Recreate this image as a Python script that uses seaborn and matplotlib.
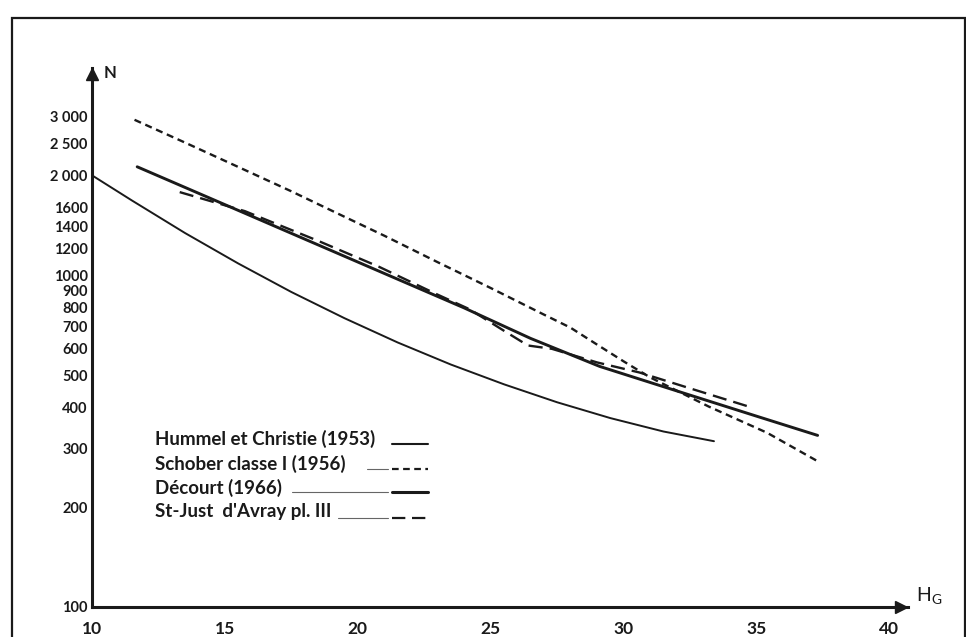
import numpy as np
import pandas as pd
import matplotlib
matplotlib.use("Agg")
import matplotlib.pyplot as plt
from matplotlib.lines import Line2D
from matplotlib.patches import Rectangle
from matplotlib.ticker import FixedLocator, FixedFormatter, NullFormatter
import seaborn as sns

# ---------------- data ----------------
hummel_x = [10.0, 11.5, 13.5, 15.5, 17.5, 19.5, 21.5, 23.5, 25.5, 27.5, 29.5, 31.5, 33.4]
hummel_n = [2000, 1680, 1340, 1085, 890, 742, 627, 538, 469, 414, 371, 338, 316]

schober_x = [11.6, 13.5, 15.5, 17.5, 19.5, 21.0, 23.0, 25.0, 27.0, 28.0, 29.0, 30.0, 31.0, 33.2, 35.4, 37.3]
schober_n = [2940, 2510, 2120, 1790, 1500, 1315, 1095, 915, 761, 695, 618, 550, 492, 402, 335, 275]

decourt_x = [11.7, 15.0, 18.0, 21.0, 24.0, 26.5, 29.1, 32.0, 35.0, 37.3]
decourt_n = [2122, 1632, 1285, 1012, 797, 645, 531, 448, 376, 329]

stjust_x = [13.3, 15.75, 18.5, 20.8, 23.0, 24.2, 25.5, 26.4, 27.3, 29.0, 30.6, 32.5, 34.7]
stjust_n = [1780, 1560, 1270, 1060, 874, 790, 680, 614, 600, 546, 509, 456, 402]

series_names = ["Hummel et Christie (1953)", "Schober classe I (1956)",
                "Décourt (1966)", "St-Just  d'Avray pl. III"]

y_major = [100, 200, 300, 400, 500, 600, 700, 800, 900, 1000, 1200, 1400, 1600, 2000, 2500, 3000]
y_labels = ["100", "200", "300", "400", "500", "600", "700", "800", "900", "1000",
            "1200", "1400", "1600", "2 000", "2 500", "3 000"]
y_minor = [120, 140, 160, 180, 250, 1800]
x_ticks = [10, 15, 20, 25, 30, 35, 40]
x_labels = ["10", "15", "20", "25", "30", "35", "40"]

# ---------------- styling ----------------
sns.set_style("white")
plt.rcParams['font.family'] = ['Lato', 'DejaVu Sans']
INK = "#1a1a1a"

W, H = 966, 637
fig = plt.figure(figsize=(W / 100, H / 100), dpi=100)
fig.patch.set_facecolor("white")

def fx(px):
    return px / W

def fy(py):
    return 1 - py / H

ax = fig.add_axes([fx(92), fy(607), fx(908) - fx(92), fy(68) - fy(607)])
ax.set_facecolor("white")

frames = []
for name, xs, ns in zip(series_names,
                        [hummel_x, schober_x, decourt_x, stjust_x],
                        [hummel_n, schober_n, decourt_n, stjust_n]):
    frames.append(pd.DataFrame({"HG": xs, "N": ns, "serie": name}))
df = pd.concat(frames, ignore_index=True)

styles = {
    series_names[0]: dict(lw=1.4, dashes=None),
    series_names[1]: dict(lw=1.7, dashes=(3, 2)),
    series_names[2]: dict(lw=2.1, dashes=None),
    series_names[3]: dict(lw=1.7, dashes=(6, 3)),
}
for name in series_names:
    sub = df[df["serie"] == name]
    st = styles[name]
    sns.lineplot(data=sub, x="HG", y="N", ax=ax, color=INK, lw=st["lw"],
                 sort=False, estimator=None, legend=False)
    if st["dashes"] is not None:
        ax.lines[-1].set_dashes(st["dashes"])

ax.set_yscale("log")
ax.set_xlim(10, 40.7)
ax.set_ylim(100, 4212)

ax.yaxis.set_major_locator(FixedLocator(y_major))
ax.yaxis.set_major_formatter(FixedFormatter(y_labels))
ax.yaxis.set_minor_locator(FixedLocator(y_minor))
ax.yaxis.set_minor_formatter(NullFormatter())
ax.xaxis.set_major_locator(FixedLocator(x_ticks))
ax.xaxis.set_major_formatter(FixedFormatter(x_labels))

ax.tick_params(axis="y", which="both", direction="inout", length=6, width=1.3,
               color=INK, labelsize=10.5, pad=0, labelcolor=INK)
ax.tick_params(axis="x", which="major", direction="inout", length=8, width=1.3,
               color=INK, labelsize=12.5, pad=6, labelcolor=INK)
for lab in ax.get_yticklabels() + ax.get_xticklabels():
    lab.set_fontweight("bold")

ax.set_xlabel("")
ax.set_ylabel("")
for s in ["top", "right"]:
    ax.spines[s].set_visible(False)
for s in ["left", "bottom"]:
    ax.spines[s].set_linewidth(2.2)
    ax.spines[s].set_color(INK)

# axis arrows
ax.plot([40.45], [0], marker=">", ms=9, color=INK, transform=ax.get_xaxis_transform(),
        clip_on=False)
ax.plot([0], [4042], marker="^", ms=9, color=INK, transform=ax.get_yaxis_transform(),
        clip_on=False)

fig.text(fx(104), fy(73), "N", fontsize=12, fontweight="bold", color=INK,
         ha="left", va="center")
fig.text(fx(916), fy(596), r"H$_\mathregular{G}$", fontsize=14, color=INK,
         ha="left", va="center")

# legend block (text + leader + line sample)
rows = [
    (series_names[0], 439, 444, None, "solid", 1.5),
    (series_names[1], 464, 469, 367, (0, (3, 2)), 1.6),
    (series_names[2], 488, 492, 292, "solid", 2.2),
    (series_names[3], 512, 518, 338, (0, (6, 3)), 1.6),
]
for txt, ty, ly, lead_start, ls, lw in rows:
    fig.text(fx(155), fy(ty), txt, fontsize=13.5, fontweight="bold", color=INK,
             ha="left", va="center")
    if lead_start is not None:
        fig.add_artist(Line2D([fx(lead_start), fx(388)], [fy(ly), fy(ly)],
                              transform=fig.transFigure, color="#666666", lw=0.8))
    fig.add_artist(Line2D([fx(392), fx(428)], [fy(ly), fy(ly)],
                          transform=fig.transFigure, color=INK, lw=lw, linestyle=ls))

# outer frame
fig.add_artist(Rectangle((fx(12), fy(640)), fx(965) - fx(12), fy(18) - fy(640),
                         transform=fig.transFigure, fill=False, ec=INK, lw=1.6))

fig.savefig("out.png", dpi=100, facecolor="white")
